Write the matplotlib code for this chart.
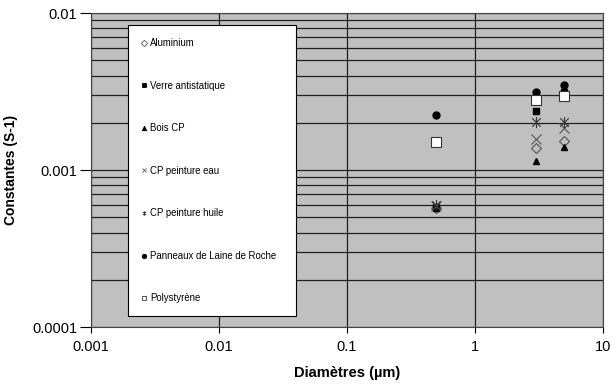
import matplotlib
matplotlib.use('Agg')
import matplotlib.pyplot as plt
from matplotlib.path import Path
from matplotlib.ticker import LogLocator, FixedLocator, NullFormatter

plt.rcParams['font.family'] = ['Liberation Sans', 'DejaVu Sans']

# Data
diametres = [0.5, 3, 5]
series_names = ['Aluminium', 'Verre antistatique', 'Bois CP', 'CP peinture eau',
                'CP peinture huile', 'Panneaux de Laine de Roche', 'Polystyrène']
aluminium = [0.00057, 0.00139, 0.00153]
verre = [0.00058, 0.00238, 0.00313]
bois = [0.00057, 0.00115, 0.00141]
cp_eau = [0.00059, 0.00157, 0.00184]
cp_huile = [0.00060, 0.00201, 0.00201]
laine = [0.00224, 0.00313, 0.00348]
polystyrene = [0.00151, 0.00279, 0.00296]
y_ticks = [0.0001, 0.001, 0.01]
y_tick_labels = ['0.0001', '0.001', '0.01']
x_ticks = [0.001, 0.01, 0.1, 1, 10]
x_tick_labels = ['0.001', '0.01', '0.1', '1', '10']

# asterisk marker (x + vertical bar)
star_path = Path([(-1, -1), (1, 1), (-1, 1), (1, -1), (0, -1.3), (0, 1.3)],
                 [Path.MOVETO, Path.LINETO, Path.MOVETO, Path.LINETO, Path.MOVETO, Path.LINETO])

fig = plt.figure(figsize=(6.13, 3.85), dpi=100)
ax = fig.add_axes([0.1485, 0.1506, 0.8352, 0.8154])
ax.set_facecolor('#c0c0c0')

styles = [
    dict(marker='D', mfc='none', mec='#555555', ms=5, mew=0.8),
    dict(marker='s', mfc='black', mec='black', ms=5),
    dict(marker='^', mfc='black', mec='black', ms=5),
    dict(marker='x', mfc='none', mec='#555555', ms=7, mew=0.8),
    dict(marker=star_path, mfc='none', mec='#333333', ms=8, mew=0.8),
    dict(marker='o', mfc='black', mec='black', ms=5),
    dict(marker='s', mfc='white', mec='#333333', ms=7, mew=0.8),
]
all_series = [aluminium, verre, bois, cp_eau, cp_huile, laine, polystyrene]

for name, vals, st in zip(series_names, all_series, styles):
    ax.plot(diametres, vals, linestyle='none', label=name, **st)

ax.set_xscale('log')
ax.set_yscale('log')
ax.set_xlim(0.001, 10)
ax.set_ylim(0.0001, 0.01)

ax.set_xticks(x_ticks)
ax.set_xticklabels(x_tick_labels)
ax.set_yticks(y_ticks)
ax.set_yticklabels(y_tick_labels)
ax.xaxis.set_minor_locator(FixedLocator([]))
ax.yaxis.set_minor_locator(LogLocator(base=10, subs=range(2, 10)))
ax.yaxis.set_minor_formatter(NullFormatter())

ax.grid(True, which='major', axis='both', color='#202020', linewidth=0.9)
ax.grid(True, which='minor', axis='y', color='#202020', linewidth=0.9)
ax.set_axisbelow(True)
ax.tick_params(axis='y', which='major', direction='out', length=8, width=0.8, pad=2,
               labelsize=10.5, colors='black')
ax.tick_params(axis='x', which='major', direction='out', length=4, width=0.8, pad=5,
               labelsize=10.5, colors='black')
ax.tick_params(which='minor', length=0)
for s in ax.spines.values():
    s.set_color('#444444')
    s.set_linewidth(0.8)

ax.set_xlabel('Diamètres (µm)', fontsize=10.5, fontweight='bold', labelpad=9)
ax.set_ylabel('Constantes (S-1)', fontsize=10, fontweight='bold', labelpad=10)

# small legend markers
leg_handles = []
for name, st in zip(series_names, styles):
    st2 = dict(st)
    st2['ms'] = 3.2
    st2['mew'] = 0.6
    h, = ax.plot([], [], linestyle='none', label=name, **st2)
    leg_handles.append(h)

leg = ax.legend(handles=leg_handles, loc='upper left',
                bbox_to_anchor=(0.072, 0.962, 0.328, 0.0), mode='expand',
                fontsize=6.9, labelspacing=3.4, handlelength=0.7, handletextpad=0.3,
                borderpad=1.35, frameon=True, fancybox=False, framealpha=1,
                edgecolor='black', borderaxespad=0)
leg.get_frame().set_linewidth(0.8)

fig.savefig('out.png', dpi=100)
